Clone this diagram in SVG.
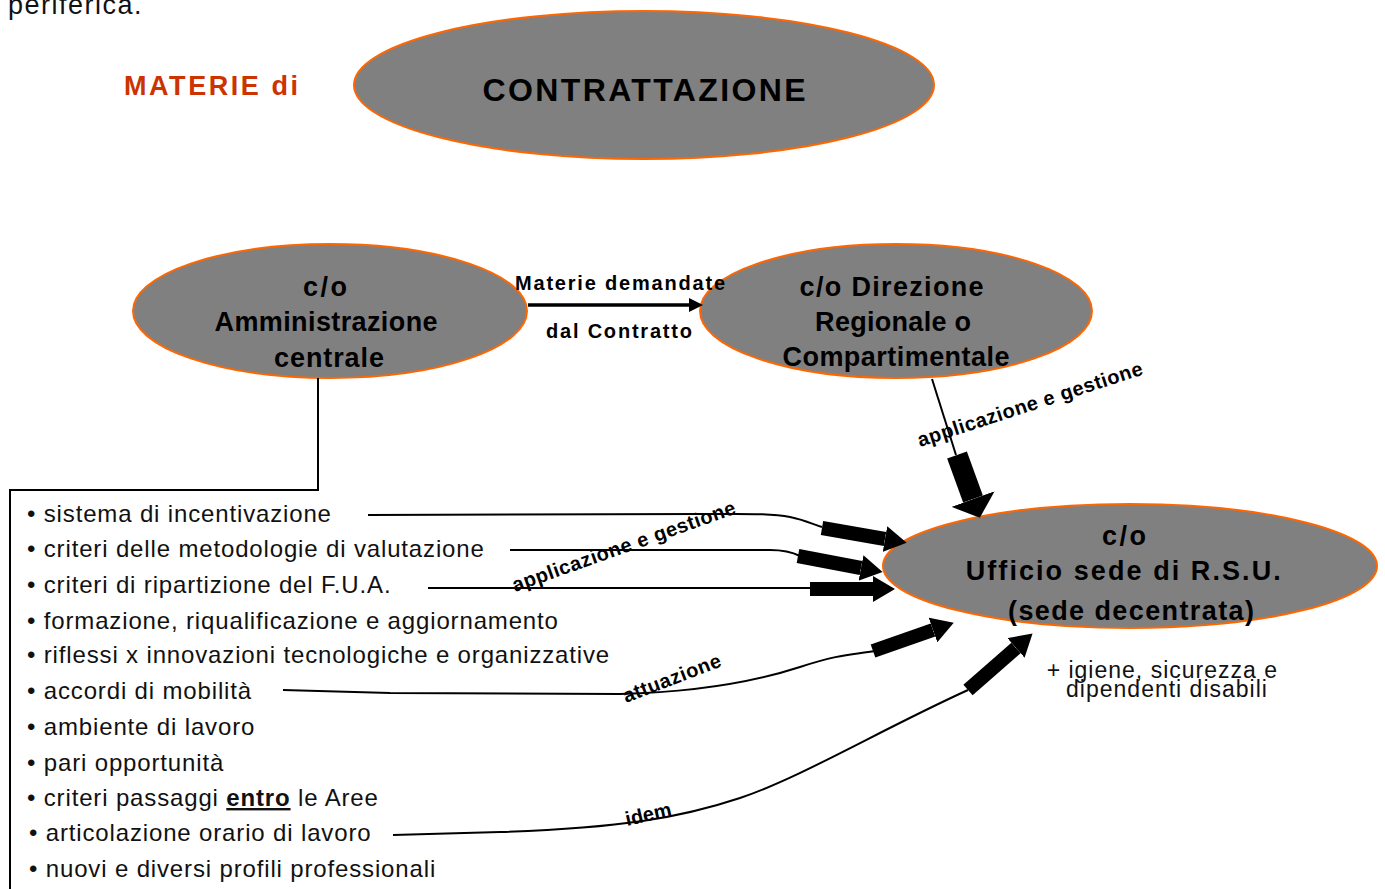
<svg xmlns="http://www.w3.org/2000/svg" width="1385" height="889" viewBox="0 0 1385 889">
  <style>
    .bubble { fill: #808080; stroke: #FF6600; stroke-width: 2; }
    .title { font-family: "Liberation Sans", Arial, sans-serif; font-weight: bold; fill: #000; text-anchor: middle; }
    .lbl { font-family: "Liberation Sans", Arial, sans-serif; font-weight: bold; font-size: 20px; fill: #000; }
    .item { font-family: "Liberation Sans", Arial, sans-serif; font-size: 24px; letter-spacing: 0.85px; fill: #111; }
    .thin { fill: none; stroke: #000; stroke-width: 2; }
    .fat { fill: none; stroke: #000; stroke-width: 14; marker-end: url(#headS); }
  </style>
  <defs>
    <marker id="headS" markerUnits="userSpaceOnUse" viewBox="0 0 22 26" markerWidth="22" markerHeight="26" refX="0" refY="13" orient="auto">
      <path d="M0,0 L22,13 L0,26 Z" fill="#000"/>
    </marker>
    <marker id="headL" markerUnits="userSpaceOnUse" viewBox="0 0 20 46" markerWidth="20" markerHeight="46" refX="0" refY="23" orient="auto">
      <path d="M0,0 L20,23 L0,46 Z" fill="#000"/>
    </marker>
    <marker id="headT" markerUnits="userSpaceOnUse" viewBox="0 0 14 14" markerWidth="14" markerHeight="14" refX="0" refY="7" orient="auto">
      <path d="M0,0 L14,7 L0,14 Z" fill="#000"/>
    </marker>
  </defs>

  <rect width="1385" height="889" fill="#fff"/>

  <!-- heading -->
  <text x="8" y="14" font-family="Liberation Sans, Arial, sans-serif" font-size="27" letter-spacing="1.5" fill="#111">periferica.</text>
  <text x="124" y="95" font-family="Liberation Sans, Arial, sans-serif" font-size="27" font-weight="bold" fill="#CC3300" textLength="174" lengthAdjust="spacing">MATERIE di</text>

  <g id="node-contrattazione">
    <ellipse class="bubble" cx="644" cy="85" rx="290" ry="74"/>
    <text class="title" x="644" y="101" font-size="32" textLength="323" lengthAdjust="spacing">CONTRATTAZIONE</text>
  </g>

  <g id="node-amministrazione">
    <ellipse class="bubble" cx="330" cy="311" rx="197" ry="67"/>
    <text class="title" font-size="27">
      <tspan x="330" y="296" textLength="44" lengthAdjust="spacing">c/o</tspan>
      <tspan x="330" y="331" textLength="223" lengthAdjust="spacing">Amministrazione</tspan>
      <tspan x="329" y="367" textLength="110" lengthAdjust="spacing">centrale</tspan>
    </text>
  </g>

  <g id="node-direzione">
    <ellipse class="bubble" cx="896" cy="311" rx="196" ry="67"/>
    <text class="title" font-size="27">
      <tspan x="896" y="296" textLength="184" lengthAdjust="spacing">c/o Direzione</tspan>
      <tspan x="897" y="331" textLength="156" lengthAdjust="spacing">Regionale o</tspan>
      <tspan x="896" y="366" textLength="227" lengthAdjust="spacing">Compartimentale</tspan>
    </text>
  </g>

  <g id="node-ufficio">
    <ellipse class="bubble" cx="1130" cy="566" rx="247" ry="62"/>
    <text class="title" font-size="27">
      <tspan x="1129" y="545" textLength="44" lengthAdjust="spacing">c/o</tspan>
      <tspan x="1128" y="580" textLength="315" lengthAdjust="spacing">Ufficio sede di R.S.U.</tspan>
      <tspan x="1131" y="620" textLength="246" lengthAdjust="spacing">(sede decentrata)</tspan>
    </text>
  </g>

  <g id="node-materie">
    <text class="item" x="27" y="522">• sistema di incentivazione</text>
    <text class="item" x="27" y="557">• criteri delle metodologie di valutazione</text>
    <text class="item" x="27" y="593">• criteri di ripartizione del F.U.A.</text>
    <text class="item" x="27" y="629">• formazione, riqualificazione e aggiornamento</text>
    <text class="item" x="27" y="663">• riflessi x innovazioni tecnologiche e organizzative</text>
    <text class="item" x="27" y="699">• accordi di mobilità</text>
    <text class="item" x="27" y="735">• ambiente di lavoro</text>
    <text class="item" x="27" y="771">• pari opportunità</text>
    <text class="item" x="27" y="806">• criteri passaggi <tspan font-weight="bold" text-decoration="underline">entro</tspan> le Aree</text>
    <text class="item" x="29" y="841">• articolazione orario di lavoro</text>
    <text class="item" x="29" y="877">• nuovi e diversi profili professionali</text>
  </g>

  <g id="node-extra">
    <text font-family="Liberation Sans, Arial, sans-serif" font-size="23" letter-spacing="1" fill="#111" text-anchor="middle">
      <tspan x="1166" y="678">+ igiene, sicurezza e</tspan>
      <tspan x="1167" y="697">dipendenti disabili</tspan>
    </text>
  </g>

  <g id="connectors">
    <!-- bracket from the central administration to the list -->
    <path class="thin" d="M318,378 L318,490 L10,490 L10,889"/>
    <!-- central -> regional -->
    <path d="M528,305 L689,305" stroke="#000" stroke-width="3.5" fill="none" marker-end="url(#headT)"/>
    <!-- regional -> office -->
    <path class="thin" d="M932,379 L956,455"/>
    <path d="M957,455 L973,499" fill="none" stroke="#000" stroke-width="21" marker-end="url(#headL)"/>
    <!-- list items -> office -->
    <path class="thin" d="M368,515 L705,514 C740,514 770,513 790,517 C805,520 812,524 822,527"/>
    <path class="fat" d="M822,528 L885,539"/>
    <path class="thin" d="M510,550 L770,550 C785,550 792,552 800,556"/>
    <path class="fat" d="M798,556 L861,568"/>
    <path class="thin" d="M428,588 L810,588"/>
    <path class="fat" d="M810,589 L873,589"/>
    <path class="thin" d="M283,690 L390,693 L620,694 C700,692 760,680 800,667 S850,655 875,651"/>
    <path class="fat" d="M873,651 L933,630"/>
    <path class="thin" d="M393,835 L500,832 C620,828 680,818 740,798 S880,730 968,690"/>
    <path class="fat" d="M968,690 L1016,648"/>
  </g>

  <g id="connector-labels">
    <text class="lbl" x="515" y="290" textLength="210" lengthAdjust="spacing">Materie demandate</text>
    <text class="lbl" x="546" y="338" textLength="146" lengthAdjust="spacing">dal Contratto</text>
    <text class="lbl" transform="translate(920,447) rotate(-18)" letter-spacing="0.5">applicazione e gestione</text>
    <text class="lbl" transform="translate(515,592) rotate(-19.5)" letter-spacing="0.5">applicazione e gestione</text>
    <text class="lbl" transform="translate(626,703) rotate(-21)" letter-spacing="0.5">attuazione</text>
    <text class="lbl" transform="translate(627,826) rotate(-13)">idem</text>
  </g>
</svg>
